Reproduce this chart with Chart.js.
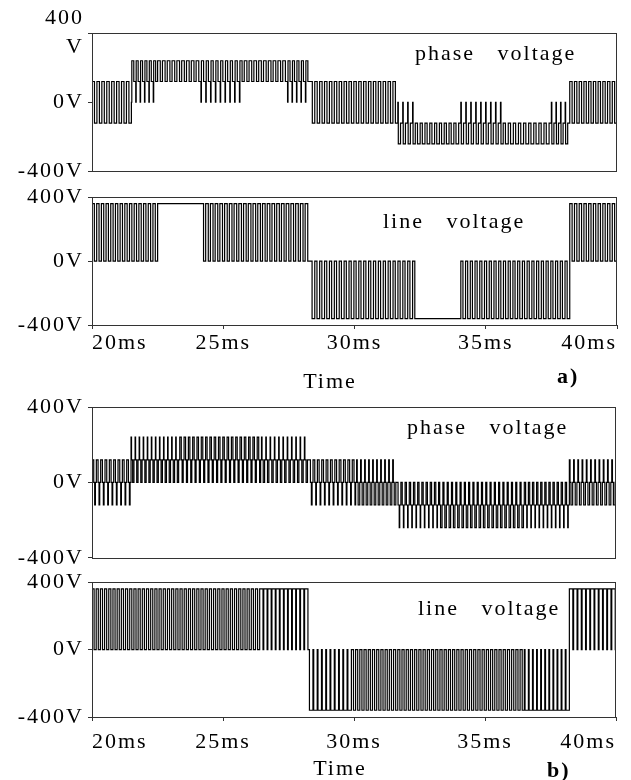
<!DOCTYPE html>
<html>
<head>
<meta charset="utf-8">
<script src="https://cdn.jsdelivr.net/npm/chart.js"></script>
<style>
  body { margin: 0; background: #fff; }
  #wrap { position: relative; width: 631px; height: 780px; overflow: hidden; }
  canvas { position: absolute; left: 0; }
</style>
</head>
<body>
<div id="wrap">
  <canvas id="aPhase" width="631" height="190" style="top:0px"></canvas>
  <canvas id="aLine" width="631" height="215" style="top:180px"></canvas>
  <canvas id="bPhase" width="631" height="190" style="top:385px"></canvas>
  <canvas id="bLine" width="631" height="215" style="top:565px"></canvas>
</div>
<script>
// time axis (ms) and voltage ticks
const timeTicks = [20, 25, 30, 35, 40];
const voltTicks = [-400, 0, 400];

// Each waveform is a list of PWM segments:
// edges = segment boundaries (ms), levels = voltage levels visited in one carrier period,
// duty = share of the carrier period spent at each level, pulses = carrier periods in segment

// a) phase voltage
const aPhaseEdges  = [20, 21.5, 22.5, 24.15, 25.8, 27.45, 28.3, 31.65, 32.4, 34.05, 35.75, 37.5, 38.2, 40];
const aPhaseLevels = [[120, -120], [0, 240, 120], [240, 120], [0, 240, 120], [240, 120], [0, 240, 120],
                      [120, -120], [0, -240, -120], [-240, -120], [0, -240, -120], [-240, -120], [0, -240, -120], [120, -120]];
const aPhaseDuty   = [[0.5, 0.5], [0.1, 0.45, 0.45], [0.55, 0.45], [0.1, 0.45, 0.45], [0.55, 0.45], [0.1, 0.45, 0.45],
                      [0.5, 0.5], [0.1, 0.45, 0.45], [0.55, 0.45], [0.1, 0.45, 0.45], [0.55, 0.45], [0.1, 0.45, 0.45], [0.5, 0.5]];
const aPhasePulses = [8, 6, 9, 9, 9, 5, 18, 4, 9, 9, 9, 4, 10];

// a) line voltage
const aLineEdges  = [20, 22.5, 24.15, 28.3, 32.4, 34.05, 38.2, 40];
const aLineLevels = [[360, 0], [360], [360, 0], [0, -360], [-360], [0, -360], [360, 0]];
const aLineDuty   = [[0.5, 0.5], [1], [0.55, 0.45], [0.45, 0.55], [1], [0.45, 0.55], [0.5, 0.5]];
const aLinePulses = [14, 1, 23, 22, 1, 23, 10];

// b) phase voltage
const bPhaseEdges  = [20, 21.49, 23.35, 26.47, 28.27, 30.1, 31.63, 33.23, 36.5, 38.22, 40];
const bPhaseLevels = [[120, 0, -120, 0], [240, 120, 0, 120], [240, 120, 0, 120], [240, 120, 0, 120],
                      [120, 0, -120, 0], [120, 0, -120, 0], [0, -120, -240, -120], [0, -120, -240, -120],
                      [0, -120, -240, -120], [120, 0, -120, 0]];
const bPhaseDuty   = [[0.4, 0.22, 0.16, 0.22], [0.12, 0.28, 0.32, 0.28], [0.35, 0.2, 0.25, 0.2], [0.12, 0.28, 0.32, 0.28],
                      [0.4, 0.22, 0.16, 0.22], [0.16, 0.22, 0.4, 0.22], [0.32, 0.28, 0.12, 0.28], [0.25, 0.2, 0.35, 0.2],
                      [0.32, 0.28, 0.12, 0.28], [0.16, 0.22, 0.4, 0.22]];
const bPhasePulses = [9, 12, 19, 11, 11, 10, 10, 20, 11, 11];

// b) line voltage
const bLineEdges  = [20, 26.4, 28.27, 29.9, 36.5, 38.22, 40];
const bLineLevels = [[360, 0], [360, 0], [0, -360], [0, -360], [0, -360], [360, 0]];
const bLineDuty   = [[0.5, 0.5], [0.82, 0.18], [0.18, 0.82], [0.5, 0.5], [0.18, 0.82], [0.82, 0.18]];
const bLinePulses = [40, 12, 10, 41, 11, 11];

const FONT = '"Liberation Serif", "Times New Roman", serif';
Chart.defaults.color = '#000';

// turn segment description into step points (x = ms, y = V)
function buildWave(edges, levels, duty, pulses) {
    const pts = [];
    for (let i = 0; i < levels.length; i++) {
        const period = (edges[i + 1] - edges[i]) / pulses[i];
        for (let k = 0; k < pulses[i]; k++) {
            let t = edges[i] + k * period;
            levels[i].forEach((v, j) => {
                pts.push({ x: t, y: v });
                t += duty[i][j] * period;
            });
        }
    }
    const last = levels[levels.length - 1];
    pts.push({ x: edges[edges.length - 1], y: last[last.length - 1] });
    return pts;
}

// frame around the plot + free text inside/under the panel
const panelText = {
    id: 'panelText',
    beforeUpdate(chart) { chart.ctx.letterSpacing = '2px'; },
    beforeDraw(chart) { chart.ctx.letterSpacing = '2px'; },
    afterDraw(chart, args, opts) {
        const ctx = chart.ctx;
        const a = chart.chartArea;
        ctx.save();
        ctx.strokeStyle = '#333';
        ctx.lineWidth = 1;
        ctx.strokeRect(Math.round(a.left) + 0.5, Math.round(a.top) + 0.5,
                       Math.round(a.right - a.left) - 1, Math.round(a.bottom - a.top));
        ctx.fillStyle = '#000';
        ctx.letterSpacing = '2px';
        ctx.textBaseline = 'alphabetic';
        (opts.items || []).forEach(n => {
            ctx.font = (n.bold ? 'bold ' : '') + '22px ' + FONT;
            ctx.textAlign = n.align || 'left';
            ctx.fillText(n.text, n.x, n.y);
        });
        ctx.restore();
    }
};

function makePanel(id, points, cfg) {
    new Chart(document.getElementById(id), {
        type: 'line',
        data: {
            datasets: [{
                data: points,
                borderColor: '#000',
                borderWidth: 1.2,
                pointRadius: 0,
                stepped: true,
                fill: false
            }]
        },
        options: {
            responsive: false,
            animation: false,
            layout: { padding: cfg.padding },
            plugins: {
                legend: { display: false },
                tooltip: { enabled: false },
                panelText: { items: cfg.items }
            },
            scales: {
                x: {
                    type: 'linear',
                    min: timeTicks[0],
                    max: timeTicks[timeTicks.length - 1],
                    display: cfg.showTime,
                    afterFit: s => { if (cfg.showTime) s.height = 45; },
                    afterBuildTicks: s => { s.ticks = timeTicks.map(v => ({ value: v })); },
                    border: { display: false },
                    grid: { drawOnChartArea: false, drawTicks: true, tickLength: 4, color: '#333' },
                    ticks: {
                        align: 'inner',
                        autoSkip: false,
                        padding: cfg.timePad || 1,
                        maxRotation: 0,
                        font: { family: FONT, size: 22 },
                        callback: v => v + 'ms'
                    }
                },
                y: {
                    min: voltTicks[0],
                    max: voltTicks[voltTicks.length - 1],
                    afterFit: s => { s.width = 92; },
                    afterBuildTicks: s => { s.ticks = voltTicks.map(v => ({ value: v })); },
                    border: { display: false },
                    grid: { drawOnChartArea: false, drawTicks: true, tickLength: 4, color: '#333' },
                    ticks: {
                        autoSkip: false,
                        padding: 4,
                        font: { family: FONT, size: 22, lineHeight: cfg.labelLine || 1.2 },
                        callback: v => (cfg.splitTop && v === 400) ? ['400', 'V'] : v + 'V'
                    }
                }
            }
        },
        plugins: [panelText]
    });
}

makePanel('aPhase', buildWave(aPhaseEdges, aPhaseLevels, aPhaseDuty, aPhasePulses), {
    padding: { top: 33, bottom: 15, right: 14, left: 0 },
    showTime: false, splitTop: true, labelLine: 1.32,
    items: [{ text: 'phase   voltage', x: 415, y: 60 }]
});

makePanel('aLine', buildWave(aLineEdges, aLineLevels, aLineDuty, aLinePulses), {
    padding: { top: 15, bottom: 25, right: 14, left: 0 },
    showTime: true, timePad: 1,
    items: [
        { text: 'line   voltage', x: 383, y: 48 },
        { text: 'Time', x: 330, y: 208, align: 'center' },
        { text: 'a)', x: 557, y: 203, bold: true }
    ]
});

makePanel('bPhase', buildWave(bPhaseEdges, bPhaseLevels, bPhaseDuty, bPhasePulses), {
    padding: { top: 22, bottom: 16, right: 15, left: 0 },
    showTime: false,
    items: [{ text: 'phase   voltage', x: 407, y: 49 }]
});

makePanel('bLine', buildWave(bLineEdges, bLineLevels, bLineDuty, bLinePulses), {
    padding: { top: 14, bottom: 18, right: 15, left: 0 },
    showTime: true, timePad: 8,
    items: [
        { text: 'line   voltage', x: 418, y: 50 },
        { text: 'Time', x: 340, y: 210, align: 'center' },
        { text: 'b)', x: 547, y: 212, bold: true }
    ]
});
</script>
</body>
</html>
